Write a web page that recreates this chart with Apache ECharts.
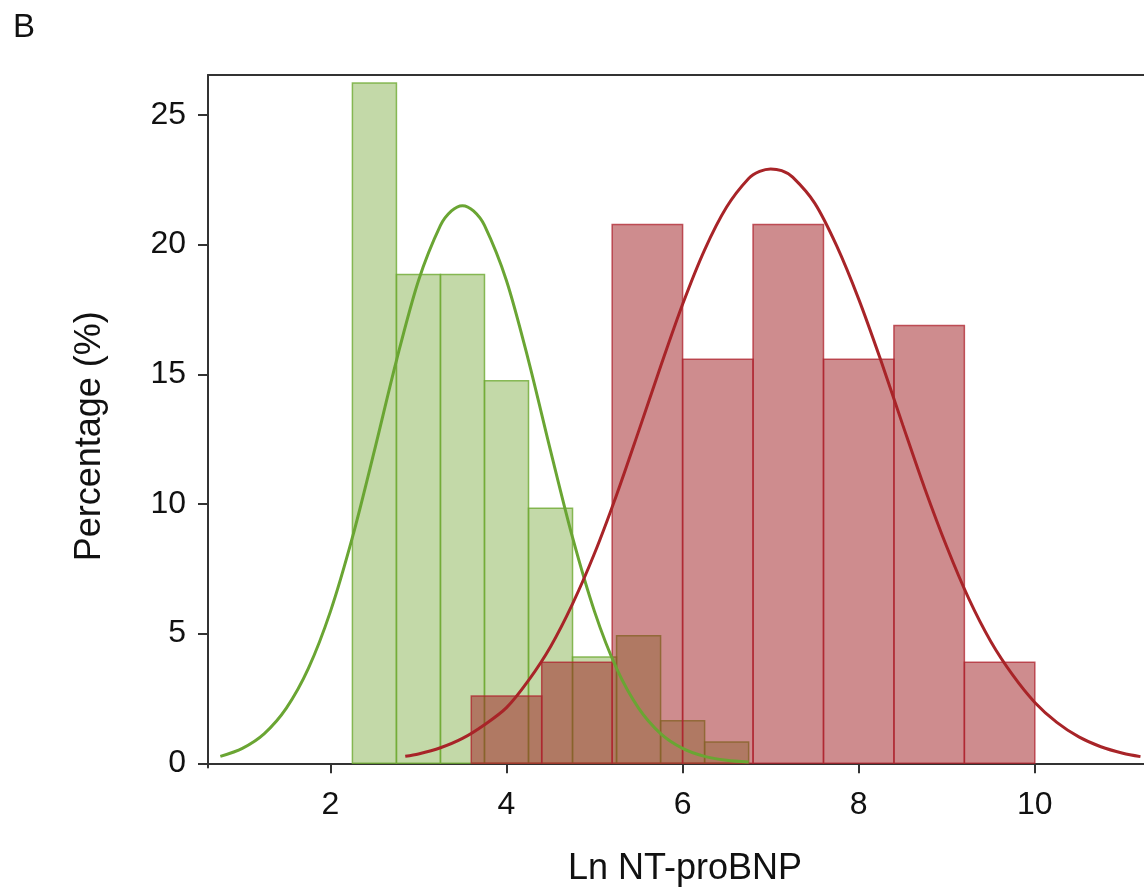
<!DOCTYPE html>
<html>
<head>
<meta charset="utf-8">
<script src="https://cdn.jsdelivr.net/npm/echarts@6/dist/echarts.min.js"></script>
<style>
html,body{margin:0;padding:0;background:#fff;}
#chart{width:1144px;height:888px;}
</style>
</head>
<body>
<div id="chart"></div>
<script>
// ---- data ----
var panelLabel = 'B';
var xTitle = 'Ln NT-proBNP';
var yTitle = 'Percentage (%)';
var xTicks = [2, 4, 6, 8, 10];
var yTicks = [0, 5, 10, 15, 20, 25];

// Green histogram (bin lower edges, width 0.5)
var greenBinLo = [2.25, 2.75, 3.25, 3.75, 4.25, 4.75, 5.25, 5.75, 6.25];
var greenBinWidth = 0.5;
var greenPct = [26.23, 18.85, 18.85, 14.75, 9.84, 4.10, 4.92, 1.64, 0.82];

// Red histogram (bin lower edges, width 0.8)
var redBinLo = [3.6, 4.4, 5.2, 6.0, 6.8, 7.6, 8.4, 9.2];
var redBinWidth = 0.8;
var redPct = [2.60, 3.90, 20.78, 15.58, 20.78, 15.58, 16.88, 3.90];

// Fitted curves
var greenCurveX = [0.75, 1.0, 1.25, 1.5, 1.75, 2.0, 2.25, 2.5, 2.75, 3.0, 3.25, 3.375, 3.5, 3.625, 3.75, 4.0, 4.25, 4.5, 4.75, 5.0, 5.25, 5.5, 5.75, 6.0, 6.25, 6.5, 6.75];
var greenCurveY = [0.27, 0.58, 1.15, 2.13, 3.66, 5.85, 8.71, 12.06, 15.53, 18.61, 20.74, 21.3, 21.5, 21.3, 20.74, 18.61, 15.53, 12.06, 8.71, 5.85, 3.66, 2.13, 1.15, 0.58, 0.27, 0.12, 0.05];

var redCurveX = [2.85, 3.0, 3.25, 3.5, 3.75, 4.0, 4.25, 4.5, 4.75, 5.0, 5.25, 5.5, 5.75, 6.0, 6.25, 6.5, 6.75, 6.875, 7.0, 7.125, 7.25, 7.5, 7.75, 8.0, 8.25, 8.5, 8.75, 9.0, 9.25, 9.5, 9.75, 10.0, 10.25, 10.5, 10.75, 11.0, 11.2];
var redCurveY = [0.27, 0.36, 0.6, 0.96, 1.49, 2.15, 3.2, 4.5, 6.15, 8.1, 10.35, 12.8, 15.3, 17.7, 19.8, 21.45, 22.55, 22.82, 22.92, 22.85, 22.6, 21.6, 19.95, 17.9, 15.55, 13.05, 10.6, 8.35, 6.35, 4.7, 3.4, 2.35, 1.58, 1.02, 0.64, 0.39, 0.26];

// ---- build ----
function binData(lo, w, vals){
  return lo.map(function(x, i){ return [x, x + w, vals[i]]; });
}
function pairs(xs, ys){ return xs.map(function(x,i){ return [x, ys[i]]; }); }

function histRender(fill, stroke){
  return function(params, api){
    var p0 = api.coord([api.value(0), api.value(2)]);
    var p1 = api.coord([api.value(1), 0]);
    return {
      type: 'rect',
      shape: {x: p0[0], y: p0[1], width: p1[0] - p0[0], height: p1[1] - p0[1]},
      style: {fill: fill, stroke: stroke, lineWidth: 1.5}
    };
  };
}

var FONT = '"Liberation Sans", Arial, sans-serif';
var chart = echarts.init(document.getElementById('chart'), null, {renderer: 'canvas'});
chart.setOption({
  backgroundColor: '#fff',
  animation: false,
  title: {
    text: panelLabel, left: 8, top: 6,
    textStyle: {fontFamily: FONT, fontSize: 33, fontWeight: 'normal', color: '#111'}
  },
  grid: {left: 208, right: 0, top: 75, bottom: 888 - 767.5, containLabel: false, outerBoundsMode: 'none'},
  xAxis: [{
    type: 'value', min: 0.61, max: 11.24,
    name: xTitle, nameLocation: 'middle', nameGap: 84,
    nameTextStyle: {fontFamily: FONT, fontSize: 36, color: '#111', padding: [0, 0, 0, 18]},
    axisLine: {show: true, lineStyle: {color: '#333', width: 2}},
    axisTick: {show: true, length: 10, customValues: xTicks, lineStyle: {color: '#333', width: 2}},
    axisLabel: {customValues: xTicks, fontFamily: FONT, fontSize: 32, color: '#111', margin: 22},
    splitLine: {show: false}
  }, {
    type: 'value', position: 'top', min: 0.61, max: 11.24,
    axisLine: {show: true, onZero: false, lineStyle: {color: '#333', width: 2}},
    axisTick: {show: false}, axisLabel: {show: false}, splitLine: {show: false}
  }],
  yAxis: {
    type: 'value', min: -0.16, max: 26.54,
    name: yTitle, nameLocation: 'middle', nameGap: 100, nameRotate: 90,
    nameTextStyle: {fontFamily: FONT, fontSize: 36, color: '#111', padding: [0, 30, 0, 0]},
    axisLine: {show: true, onZero: false, lineStyle: {color: '#333', width: 2}},
    axisTick: {show: true, length: 10, customValues: yTicks, lineStyle: {color: '#333', width: 2}},
    axisLabel: {customValues: yTicks, fontFamily: FONT, fontSize: 32, color: '#111', margin: 22},
    splitLine: {show: false}
  },
  series: [{
    type: 'custom', name: 'green hist',
    renderItem: histRender('rgba(135,179,81,0.5)', 'rgba(110,170,50,0.8)'),
    encode: {x: [0, 1], y: 2},
    data: binData(greenBinLo, greenBinWidth, greenPct),
    z: 2
  }, {
    type: 'custom', name: 'red hist',
    renderItem: histRender('rgba(157,25,29,0.5)', 'rgba(175,35,45,0.75)'),
    encode: {x: [0, 1], y: 2},
    data: binData(redBinLo, redBinWidth, redPct),
    z: 3
  }, {
    type: 'line', name: 'green curve', smooth: 0.3, showSymbol: false,
    lineStyle: {color: '#6aa533', width: 3},
    data: pairs(greenCurveX, greenCurveY), z: 4
  }, {
    type: 'line', name: 'red curve', smooth: 0.3, showSymbol: false,
    lineStyle: {color: '#a82428', width: 3},
    data: pairs(redCurveX, redCurveY), z: 5
  }]
});
</script>
</body>
</html>
